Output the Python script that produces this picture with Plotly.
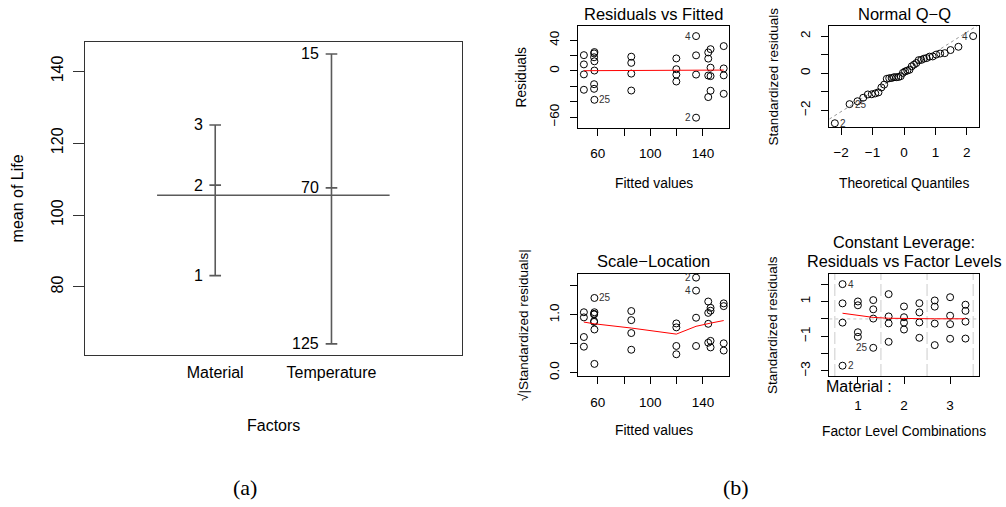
import plotly.graph_objects as go

W, H = 1006, 507
FONT = "Liberation Sans, Arial, sans-serif"
SERIF = "Liberation Serif, Times New Roman, serif"

# ---------------- data: (a) design plot, mean of Life per factor level
factor_names = ["Material", "Temperature"]
grand_mean = 105.53
material_levels = ["1", "2", "3"]
material_means = [83.17, 108.33, 125.08]
temperature_levels = ["15", "70", "125"]
temperature_means = [144.83, 107.58, 64.17]

# ---------------- data: (b) lm diagnostics (36 observations)
fitted = [134.75, 134.75, 134.75, 134.75, 155.75, 155.75, 155.75, 155.75,
          144.0, 144.0, 144.0, 144.0, 57.25, 57.25, 57.25, 57.25,
          119.75, 119.75, 119.75, 119.75, 145.75, 145.75, 145.75, 145.75,
          57.5, 57.5, 57.5, 57.5, 49.5, 49.5, 49.5, 49.5,
          85.5, 85.5, 85.5, 85.5]
residuals = [-4.75, -60.75, 20.25, 45.25, -5.75, 32.25, 3.25, -29.75,
             -6.0, -34.0, 24.0, 16.0, -23.25, -17.25, 22.75, 17.75,
             16.25, 2.25, -13.75, -4.75, 28.25, -25.75, 4.25, -6.75,
             -37.5, 12.5, 24.5, 0.5, -24.5, 20.5, 8.5, -4.5,
             10.5, 18.5, -3.5, -25.5]
std_resid = [-0.2111, -2.6997, 0.8999, 2.0109, -0.2555, 1.4331, 0.1444, -1.3220,
             -0.2666, -1.5109, 1.0665, 0.7110, -1.0332, -0.7666, 1.0110, 0.7888,
             0.7221, 0.1000, -0.6110, -0.2111, 1.2554, -1.1443, 0.1889, -0.3000,
             -1.6665, 0.5555, 1.0888, 0.0222, -1.0888, 0.9110, 0.3777, -0.2000,
             0.4666, 0.8221, -0.1555, -1.1332]
sqrt_abs_std = [0.4595, 1.6431, 0.9486, 1.4181, 0.5055, 1.1971, 0.3800, 1.1498,
                0.5163, 1.2292, 1.0327, 0.8432, 1.0165, 0.8756, 1.0055, 0.8881,
                0.8498, 0.3162, 0.7817, 0.4595, 1.1204, 1.0697, 0.4346, 0.5477,
                1.2909, 0.7453, 1.0435, 0.1490, 1.0435, 0.9545, 0.6146, 0.4472,
                0.6831, 0.9067, 0.3943, 1.0645]
level_combo = [0, 0, 0, 0, 3, 3, 3, 3, 6, 6, 6, 6, 1, 1, 1, 1,
               4, 4, 4, 4, 7, 7, 7, 7, 2, 2, 2, 2, 5, 5, 5, 5, 8, 8, 8, 8]
theo_quant = [-2.2004, -1.7317, -1.4799, -1.2977, -1.1503, -1.0246, -0.9137, -0.8122,
              -0.7189, -0.6311, -0.5485, -0.4693, -0.3934, -0.3186, -0.2456, -0.1749,
              -0.1046, -0.0348, 0.0348, 0.1046, 0.1749, 0.2456, 0.3186, 0.3934,
              0.4693, 0.5485, 0.6311, 0.7189, 0.8122, 0.9137, 1.0246, 1.1503,
              1.2977, 1.4799, 1.7317, 2.2004]
sorted_std = [-2.6997, -1.6665, -1.5109, -1.3220, -1.1443, -1.1332, -1.0888, -1.0332,
              -0.7666, -0.6110, -0.3000, -0.2666, -0.2555, -0.2111, -0.2111, -0.2000,
              -0.1555, 0.0222, 0.1000, 0.1444, 0.1889, 0.3777, 0.4666, 0.5555,
              0.7110, 0.7221, 0.7888, 0.8221, 0.8999, 0.9110, 1.0110, 1.0665,
              1.0888, 1.2554, 1.4331, 2.0109]
qq_line_intercept = 0.0736
qq_line_slope = 1.0727

smooth_x = [49.5, 57.25, 57.5, 85.5, 119.75, 134.75, 144.0, 145.75, 155.75]
rvf_smooth = [0.3, 0.4, 0.4, 0.5, 0.7, 0.9, 1.0, 1.0, 1.1]
sl_smooth = [0.873, 0.845, 0.843, 0.77, 0.665, 0.80, 0.85, 0.855, 0.90]
cl_smooth_x = [0, 1, 2, 3, 4, 5, 6, 7, 8]
cl_smooth = [0.33, 0.21, 0.09, 0.04, 0.02, 0.01, 0.01, 0.01, 0.01]
material_tick_pos = [1, 4, 7]
labelled = [2, 4, 25]

# ---------------- helpers
def px_x(p):
    return p / W

def px_y(p):
    return 1 - p / H

def r_range(lo, hi, f=0.04):
    d = (hi - lo) * f
    return [lo - d, hi + d]

boxes = {
    "a": (85, 461.7, 42.7, 358.3),
    "rvf": (578.3, 729.3, 26, 129),
    "qq": (829.3, 978.7, 26, 128),
    "sl": (578.3, 729.3, 276, 379.3),
    "cl": (829.3, 978.7, 276, 379),
}

def dom(key):
    l, r, t, b = boxes[key]
    return [px_x(l), px_x(r)], [px_y(b), px_y(t)]

def axis(domain, rng, tickvals, ticktext, anchor, ticklen=7, angle=0, standoff=6,
         size=13.5, ticks="outside", lc="black", lw=1):
    return dict(domain=domain, range=rng, tickvals=tickvals, ticktext=ticktext,
                anchor=anchor, ticks=ticks, ticklen=ticklen, tickwidth=1,
                tickcolor=lc, showline=True, linecolor=lc, linewidth=lw,
                mirror=True, showgrid=False, zeroline=False, tickangle=angle,
                ticklabelstandoff=standoff,
                tickfont=dict(family=FONT, size=size, color="black"))

fig = go.Figure()
ann = []

def text(x, y, s, size=13.5, angle=0, xanchor="center", family=FONT, color="black"):
    ann.append(dict(x=px_x(x), y=px_y(y), xref="paper", yref="paper", text=s,
                    showarrow=False, xanchor=xanchor, yanchor="middle",
                    textangle=angle, font=dict(family=family, size=size, color=color)))

# ---------------- (a) design plot
line_col = "#5a5a5a"
xs, ys = [], []
for i, means in enumerate([material_means, temperature_means], start=1):
    xs += [i, i, None]
    ys += [min(means), max(means), None]
    for m in means:
        xs += [i - 0.05, i + 0.05, None]
        ys += [m, m, None]
xs += [0.5, 2.5]
ys += [grand_mean, grand_mean]
fig.add_trace(go.Scatter(x=xs, y=ys, mode="lines", line=dict(color=line_col, width=1.6),
                         xaxis="x", yaxis="y", showlegend=False, hoverinfo="skip"))
for i, (levels, means) in enumerate([(material_levels, material_means),
                                     (temperature_levels, temperature_means)], start=1):
    for lab, m in zip(levels, means):
        ann.append(dict(x=i - 0.09, y=m, xref="x", yref="y", text=lab, showarrow=False,
                        xanchor="right", yanchor="middle",
                        font=dict(family=FONT, size=16, color="black")))

dx, dy = dom("a")
allm = material_means + temperature_means
ya = r_range(min(allm), max(allm))
fig.update_layout(
    xaxis=axis(dx, [-0.12, 3.12], [1, 2], factor_names, "y", ticks="", ticklen=0,
               standoff=2, size=16, lc="#333", lw=1.3),
    yaxis=axis(dy, ya, [80, 100, 120, 140], ["80", "100", "120", "140"], "x",
               ticklen=11, angle=-90, standoff=3, size=16, lc="#333", lw=1.3),
)
text(17.5, 200.5, "mean of Life", size=16, angle=-90)
text(273.4, 429, "Factors", size=16)

# ---------------- (b) common marker
mk = dict(symbol="circle-open", size=7, color="black", line=dict(width=1, color="black"))

def lab_ann(xa, ya_, x, y, s, side):
    ann.append(dict(x=x, y=y, xref=xa, yref=ya_, text=s, showarrow=False,
                    xanchor="left" if side == "right" else "right",
                    xshift=3 if side == "right" else -3, yanchor="middle",
                    font=dict(family=FONT, size=10, color="#333")))

# Residuals vs Fitted
fig.add_trace(go.Scatter(x=fitted, y=residuals, mode="markers", marker=mk,
                         xaxis="x2", yaxis="y2", showlegend=False))
fig.add_trace(go.Scatter(x=smooth_x, y=rvf_smooth, mode="lines", line=dict(color="red", width=1),
                         xaxis="x2", yaxis="y2", showlegend=False))
lo, hi = min(residuals), max(residuals)
e = 0.08 * (hi - lo)
dx, dy = dom("rvf")
xr_f = r_range(min(fitted), max(fitted))
fig.update_layout(
    xaxis2=axis(dx, xr_f, [60, 80, 100, 120, 140], ["60", "", "100", "", "140"], "y2"),
    yaxis2=axis(dy, r_range(lo - e, hi + e), [-60, -40, -20, 0, 20, 40],
                ["\u221260", "", "", "0", "", "40"], "x2", angle=-90),
)
for k in labelled:
    i = k - 1
    side = "left" if fitted[i] > sum(xr_f) / 2 else "right"
    lab_ann("x2", "y2", fitted[i], residuals[i], str(k), side)
text(653.8, 14, "Residuals vs Fitted", size=16.5)
text(653.8, 185, "Fitted values", size=13.8)
text(521.7, 77.5, "Residuals", size=13.8, angle=-90)

# Normal Q-Q
xr_q = r_range(min(theo_quant), max(theo_quant))
fig.add_trace(go.Scatter(x=xr_q, y=[qq_line_intercept + qq_line_slope * v for v in xr_q],
                         mode="lines", line=dict(color="#9a9a9a", width=1, dash="dot"),
                         xaxis="x3", yaxis="y3", showlegend=False))
fig.add_trace(go.Scatter(x=theo_quant, y=sorted_std, mode="markers", marker=mk,
                         xaxis="x3", yaxis="y3", showlegend=False))
lo, hi = min(sorted_std), max(sorted_std)
dx, dy = dom("qq")
fig.update_layout(
    xaxis3=axis(dx, xr_q, [-2, -1, 0, 1, 2], ["\u22122", "\u22121", "0", "1", "2"], "y3"),
    yaxis3=axis(dy, r_range(lo, hi + 0.075 * (hi - lo)), [-2, -1, 0, 1, 2],
                ["\u22122", "", "0", "", "2"], "x3", angle=-90),
)
for k in labelled:
    j = sorted_std.index(std_resid[k - 1])
    side = "left" if theo_quant[j] > 0 else "right"
    lab_ann("x3", "y3", theo_quant[j], sorted_std[j], str(k), side)
text(904, 14, "Normal Q\u2212Q", size=16.5)
text(904, 185, "Theoretical Quantiles", size=13.8)
text(773, 77, "Standardized residuals", size=13.5, angle=-90)

# Scale-Location
fig.add_trace(go.Scatter(x=fitted, y=sqrt_abs_std, mode="markers", marker=mk,
                         xaxis="x4", yaxis="y4", showlegend=False))
fig.add_trace(go.Scatter(x=smooth_x, y=sl_smooth, mode="lines", line=dict(color="red", width=1),
                         xaxis="x4", yaxis="y4", showlegend=False))
dx, dy = dom("sl")
fig.update_layout(
    xaxis4=axis(dx, xr_f, [60, 80, 100, 120, 140], ["60", "", "100", "", "140"], "y4"),
    yaxis4=axis(dy, r_range(0, max(sqrt_abs_std)), [0, 0.5, 1.0, 1.5],
                ["0.0", "", "1.0", ""], "x4", angle=-90),
)
for k in labelled:
    i = k - 1
    side = "left" if fitted[i] > sum(xr_f) / 2 else "right"
    lab_ann("x4", "y4", fitted[i], sqrt_abs_std[i], str(k), side)
text(653.8, 263, "Scale\u2212Location", size=16.5)
text(653.8, 434, "Fitted values", size=13.8)
text(523, 327.6, "\u221a|Standardized residuals|", size=13.5, angle=-90)

# Constant leverage
xr_c = r_range(-0.5, 8.5)
lo, hi = min(std_resid), max(std_resid)
e = 0.08 * (hi - lo)
yr_c = r_range(lo - e, hi + e)
vx, vy = [], []
for g in [-0.5, 2.5, 5.5, 8.5]:
    vx += [g, g, None]
    vy += [yr_c[0], yr_c[1], None]
fig.add_trace(go.Scatter(x=vx, y=vy, mode="lines",
                         line=dict(color="#cccccc", width=1, dash="12px,4px"),
                         xaxis="x5", yaxis="y5", showlegend=False, hoverinfo="skip"))
fig.add_trace(go.Scatter(x=xr_c, y=[0, 0], mode="lines",
                         line=dict(color="#c8c8c8", width=1, dash="dot"),
                         xaxis="x5", yaxis="y5", showlegend=False, hoverinfo="skip"))
fig.add_trace(go.Scatter(x=level_combo, y=std_resid, mode="markers", marker=mk,
                         xaxis="x5", yaxis="y5", showlegend=False))
fig.add_trace(go.Scatter(x=cl_smooth_x, y=cl_smooth, mode="lines", line=dict(color="red", width=1),
                         xaxis="x5", yaxis="y5", showlegend=False))
dx, dy = dom("cl")
fig.update_layout(
    xaxis5=axis(dx, xr_c, material_tick_pos, material_levels, "y5", standoff=10),
    yaxis5=axis(dy, yr_c, [-3, -2, -1, 0, 1, 2],
                ["\u22123", "", "\u22121", "", "1", ""], "x5", angle=-90),
)
for k in labelled:
    i = k - 1
    side = "left" if level_combo[i] > 1.5 else "right"
    lab_ann("x5", "y5", level_combo[i], std_resid[i], str(k), side)
text(904, 244, "Constant Leverage:", size=16.3)
text(904, 263, "Residuals vs Factor Levels", size=16.3)
text(904, 435, "Factor Level Combinations", size=13.8)
text(773, 327.5, "Standardized residuals", size=13.5, angle=-90)
text(824, 390, "Material :", size=16, xanchor="left")

# captions
text(245, 491, "(a)", size=22, family=SERIF)
text(736, 491, "(b)", size=22, family=SERIF)

fig.update_layout(width=W, height=H, margin=dict(l=0, r=0, t=0, b=0),
                  paper_bgcolor="white", plot_bgcolor="white", showlegend=False,
                  annotations=ann)
fig.write_html("out.html")
